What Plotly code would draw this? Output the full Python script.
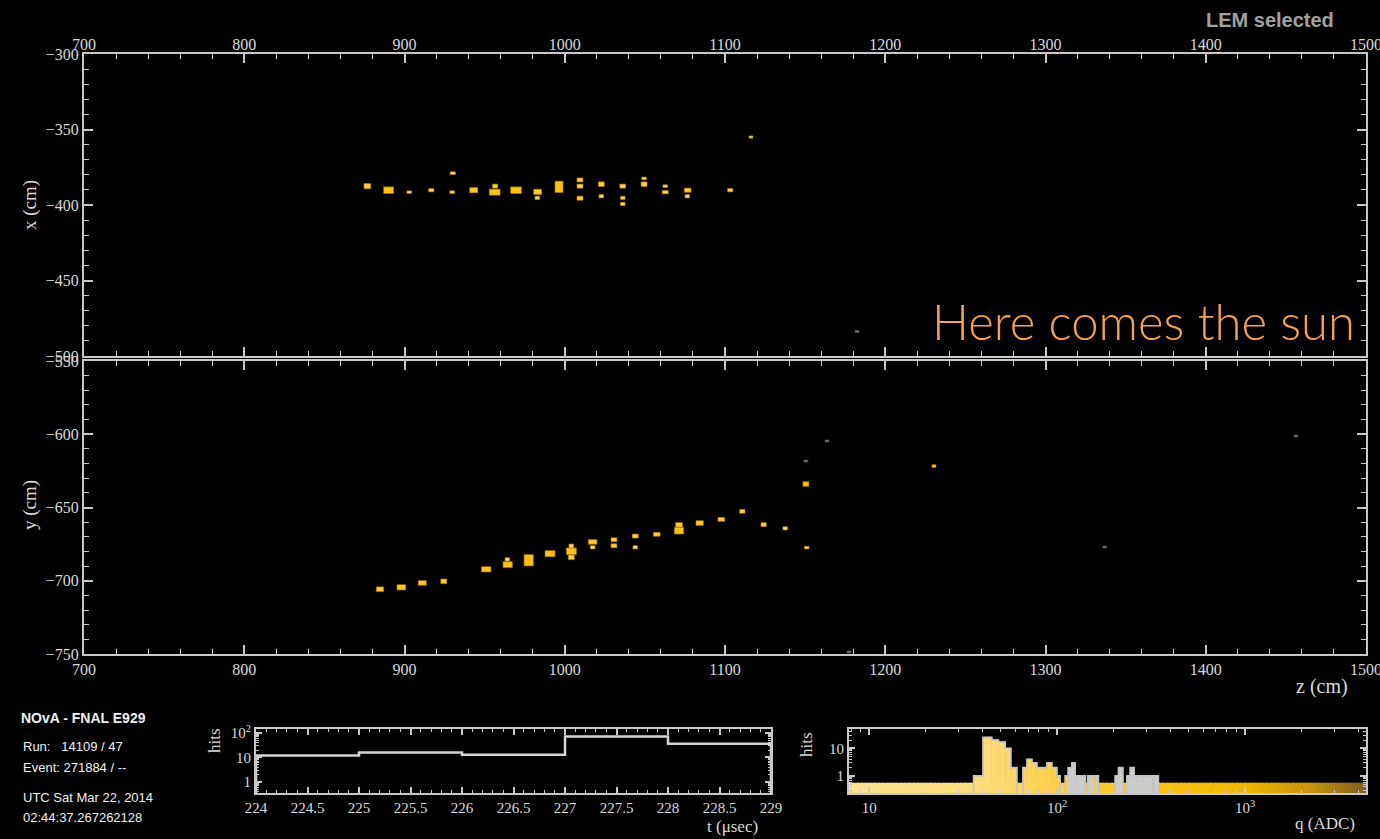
import numpy as np
import plotly.graph_objects as go

# ---------------- data ----------------
# XZ view (top panel) - selected hits: plane z, cell x, drawn cell size, charge
xz_z = [876.8, 890.1, 903.0, 916.7, 930.1, 929.8, 943.2, 956.5, 956.3, 969.6, 983.1, 982.9, 996.4,
        1009.5, 1009.5, 1009.5, 1022.8, 1022.8, 1036.2, 1036.2, 1036.2, 1049.5, 1049.5, 1062.7,
        1062.7, 1076.7, 1076.5, 1103.3, 1116.2]
xz_x = [-387.5, -390.2, -391.5, -390.2, -378.9, -391.5, -390.2, -387.5, -391.5, -390.2, -391.3,
        -395.3, -388.0, -383.4, -387.5, -395.5, -386.2, -394.2, -387.5, -395.3, -399.3, -382.4,
        -386.2, -387.5, -391.5, -390.2, -394.2, -390.2, -355.0]
xz_dz = [4.2, 6.2, 2.9, 3.3, 3.3, 2.9, 5.0, 3.3, 6.7, 6.7, 5.0, 2.9, 5.0, 3.7, 3.7, 3.7, 3.7, 2.9,
         3.7, 2.9, 2.9, 2.9, 3.7, 2.9, 3.7, 4.2, 2.9, 3.3, 2.5]
xz_dx = [3.5, 4.4, 1.8, 2.2, 1.8, 1.8, 3.5, 2.7, 4.0, 4.4, 3.5, 2.2, 7.5, 2.7, 2.7, 2.7, 3.1, 2.2,
         2.7, 2.2, 2.2, 1.8, 3.1, 1.8, 2.2, 2.7, 2.2, 2.2, 1.5]
xz_q = [180, 300, 60, 80, 60, 60, 200, 100, 320, 320, 200, 70, 350, 110, 110, 110, 130, 70, 110,
        70, 70, 60, 130, 60, 100, 150, 70, 80, 50]
# XZ view - other (unselected) hits
xz_oth_z = [1182.4]
xz_oth_x = [-483.7]

# YZ view (bottom panel) - selected hits
yz_z = [884.7, 898.0, 911.1, 924.5, 951.0, 964.4, 964.2, 977.5, 990.8, 1004.1, 1004.1, 1004.1,
        1017.4, 1017.4, 1030.7, 1030.7, 1044.0, 1044.0, 1057.4, 1071.3, 1071.3, 1084.2, 1097.7,
        1110.8, 1124.1, 1137.6, 1151.0, 1150.5, 1230.4]
yz_y = [-705.8, -704.5, -701.5, -700.4, -692.2, -689.0, -685.4, -686.0, -681.5, -679.9, -676.3,
        -684.0, -673.5, -677.2, -672.0, -676.1, -669.5, -677.2, -668.3, -661.9, -665.8, -660.6,
        -658.1, -652.6, -661.7, -664.2, -677.4, -634.0, -621.7]
yz_dz = [4.6, 5.4, 5.0, 3.7, 5.8, 5.8, 2.9, 5.8, 6.2, 6.2, 2.9, 3.7, 5.4, 2.9, 3.7, 3.7, 3.7, 2.9,
         4.2, 4.2, 5.8, 4.6, 4.2, 3.3, 3.3, 2.9, 2.9, 3.7, 2.5]
yz_dy = [3.2, 3.6, 3.2, 3.2, 3.6, 4.1, 2.3, 7.7, 4.1, 4.6, 2.7, 3.2, 3.2, 2.3, 2.7, 2.7, 2.7, 2.3,
         2.7, 3.2, 4.6, 3.2, 2.7, 2.7, 2.7, 2.3, 1.8, 3.2, 1.8]
yz_q = [180, 220, 200, 150, 250, 280, 60, 350, 300, 320, 70, 130, 200, 60, 110, 110, 110, 60, 150,
        160, 320, 180, 150, 100, 100, 70, 50, 420, 120]
# YZ view - other (unselected) hits
yz_oth_z = [1150.5, 1163.7, 1337.0, 1456.3, 1177.4]
yz_oth_y = [-618.3, -604.6, -677.0, -601.2, -748.6]

# timing histogram
t_edges = [224, 225, 226, 227, 228, 229]
t_hits = [12, 16, 13, 72, 36]

# charge histogram (bin edges in ADC, hit counts, grey = unselected hits)
q_edges = [35.9, 40.3, 44.9, 48.7, 52.9, 56.7, 61.0, 65.7, 69.0, 73.4, 78.0, 88.2, 93.7, 99.6,
           103.7, 110.3, 114.4, 119.7, 124.6, 140.9, 145.0, 157.3, 161.2, 165.8, 203.5, 211.9,
           223.7, 234.9, 244.6, 256.8, 263.2, 274.1, 285.7, 322.8, 328.1, 345.8]
q_hits = [1, 25, 20, 17, 10, 2, 0, 2, 4, 3, 2, 3, 2, 1, 0, 1, 2, 3, 1, 0, 1, 1, 1, 0, 1, 2, 0, 1,
          2, 1, 1, 1, 1, 0, 1]
q_grey = [0, 0, 0, 0, 0, 0, 0, 0, 0, 0, 0, 0, 0, 0, 0, 0, 1, 1, 1, 0, 1, 0, 1, 0, 1, 1, 0, 1,
          1, 1, 1, 1, 1, 0, 1]
q_range = [7.8, 4400]

# ---------------- styling helpers ----------------
W, H = 1380, 839
FRAME = '#C8C8C8'
LBL = '#DADADA'
SERIF = 'Liberation Serif'
SANS = 'Liberation Sans'

PAL = [(0.89, (250, 226, 145)), (1.6, (252, 220, 125)), (2.0, (255, 208, 75)),
       (2.5, (252, 194, 25)), (3.0, (242, 182, 0)), (3.35, (200, 148, 14)), (3.65, (125, 95, 30))]


def pal(q):
    lq = np.log10(q)
    xs = [p[0] for p in PAL]
    c = [int(round(np.interp(lq, xs, [p[1][i] for p in PAL]))) for i in range(3)]
    return 'rgb(%d,%d,%d)' % tuple(c)


def px_x(p):
    return p / W


def px_y(p):
    return 1 - p / H


def frame_axis(**kw):
    d = dict(showline=True, linecolor=FRAME, linewidth=2, mirror='allticks', ticks='inside',
             ticklen=9, tickwidth=1.5, tickcolor=FRAME, showgrid=False, zeroline=False,
             automargin=False, fixedrange=True, ticklabeloverflow='allow',
             tickfont=dict(family=SERIF, size=16, color=LBL))
    d.update(kw)
    return d


def minor(**kw):
    d = dict(ticks='inside', ticklen=5, tickwidth=1, tickcolor=FRAME, showgrid=False)
    d.update(kw)
    return d


fig = go.Figure()


def hits(z, v, dz, dv, colors, xa, ya, lc):
    v = np.array(v, float)
    dv = np.array(dv, float)
    fig.add_trace(go.Bar(x=z, y=dv, base=v - dv / 2, width=dz, xaxis=xa, yaxis=ya,
                         marker=dict(color=colors, line=dict(color=lc, width=0.7)),
                         hoverinfo='skip', showlegend=False))


# top view
hits(xz_oth_z, xz_oth_x, [2.5] * len(xz_oth_z), [1.3] * len(xz_oth_z), '#7A7A7A', 'x', 'y', '#555')
hits(xz_z, xz_x, xz_dz, xz_dx, [pal(q) for q in xz_q], 'x', 'y', 'rgba(170,120,0,0.9)')
# bottom view
hits(yz_oth_z, yz_oth_y, [2.5] * len(yz_oth_z), [1.3] * len(yz_oth_z), '#7A7A7A', 'x2', 'y2', '#555')
hits(yz_z, yz_y, yz_dz, yz_dy, [pal(q) for q in yz_q], 'x2', 'y2', 'rgba(170,120,0,0.9)')

# time histogram
tx, ty = [t_edges[0]], [0.1]
for i, h in enumerate(t_hits):
    tx += [t_edges[i], t_edges[i + 1]]
    ty += [h, h]
tx.append(t_edges[-1])
ty.append(0.1)
fig.add_trace(go.Scatter(x=tx, y=ty, mode='lines', line=dict(color='#D4D4D4', width=2.5),
                         xaxis='x3', yaxis='y3', hoverinfo='skip', showlegend=False))

# charge histogram: palette band
band_e = np.logspace(np.log10(q_range[0]), np.log10(q_range[1]), 121)
band_c = np.sqrt(band_e[:-1] * band_e[1:])
for lo, hi, c in zip(band_e[:-1], band_e[1:], band_c):
    col = pal(c)
    fig.add_trace(go.Scatter(x=[lo, lo, hi, hi, lo], y=[0.1, 0.53, 0.53, 0.1, 0.1],
                             fill='toself', fillcolor=col, mode='lines', line=dict(width=1.5, color=col),
                             xaxis='x4', yaxis='y4', hoverinfo='skip', showlegend=False))
# charge histogram: bins
for i, h in enumerate(q_hits):
    if h <= 0:
        continue
    lo, hi = q_edges[i], q_edges[i + 1]
    col = '#CDCDCD' if q_grey[i] else pal(np.sqrt(lo * hi))
    fig.add_trace(go.Scatter(x=[lo, lo, hi, hi, lo], y=[0.1, h, h, 0.1, 0.1], fill='toself',
                             fillcolor=col, mode='lines', line=dict(width=0.8, color=col),
                             xaxis='x4', yaxis='y4', hoverinfo='skip', showlegend=False))
ox, oy = [q_edges[0]], [0.1]
for i, h in enumerate(q_hits):
    hv = h if h > 0 else 0.1
    ox += [q_edges[i], q_edges[i + 1]]
    oy += [hv, hv]
ox.append(q_edges[-1])
oy.append(0.1)
fig.add_trace(go.Scatter(x=ox, y=oy, mode='lines', line=dict(color='#C4C4C4', width=1.6),
                         xaxis='x4', yaxis='y4', hoverinfo='skip', showlegend=False))

# ---------------- axes ----------------
dom_x = [px_x(84), px_x(1366)]
fig.update_layout(
    xaxis=frame_axis(domain=dom_x, range=[700, 1500], side='top', anchor='y', tick0=700, dtick=100,
                     minor=minor(dtick=20), ticklabelstandoff=-4),
    yaxis=frame_axis(domain=[px_y(356), px_y(54)], range=[-500, -300], anchor='x', tick0=-500,
                     dtick=50, minor=minor(dtick=10)),
    xaxis2=frame_axis(domain=dom_x, range=[700, 1500], anchor='y2', tick0=700, dtick=100,
                      minor=minor(dtick=20)),
    yaxis2=frame_axis(domain=[px_y(654), px_y(361)], range=[-750, -550], anchor='x2', tick0=-750,
                      dtick=50, minor=minor(dtick=10)),
    xaxis3=frame_axis(domain=[px_x(256), px_x(771)], range=[224, 229], anchor='y3', tick0=224,
                      dtick=0.5, ticklen=6, tickfont=dict(family=SERIF, size=15, color=LBL),
                      minor=minor(dtick=0.1, ticklen=3)),
    yaxis3=frame_axis(domain=[px_y(793), px_y(729)], type='log', range=[-0.45, 2.16], anchor='x3',
                      tickvals=[1, 10, 100], ticktext=['1', '10', '10<sup>2</sup>'], ticklen=6,
                      tickfont=dict(family=SERIF, size=15, color=LBL),
                      minor=minor(tickvals=[2, 3, 4, 5, 6, 7, 8, 9, 20, 30, 40, 50, 60, 70, 80, 90, 0.4,
                                            0.5, 0.6, 0.7, 0.8, 0.9], ticklen=3)),
    xaxis4=frame_axis(domain=[px_x(849), px_x(1366)], type='log',
                      range=[np.log10(q_range[0]), np.log10(q_range[1])], anchor='y4',
                      tickvals=[10, 100, 1000], ticktext=['10', '10<sup>2</sup>', '10<sup>3</sup>'],
                      ticklen=6, tickfont=dict(family=SERIF, size=15, color=LBL),
                      minor=minor(tickvals=[8, 9, 20, 30, 40, 50, 60, 70, 80, 90, 200, 300, 400, 500,
                                            600, 700, 800, 900, 2000, 3000, 4000], ticklen=3)),
    yaxis4=frame_axis(domain=[px_y(793), px_y(729)], type='log', range=[-0.62, 1.70], anchor='x4',
                      tickvals=[1, 10], ticktext=['1', '10'], ticklen=6,
                      tickfont=dict(family=SERIF, size=15, color=LBL),
                      minor=minor(tickvals=[0.3, 0.4, 0.5, 0.6, 0.7, 0.8, 0.9, 2, 3, 4, 5, 6, 7, 8, 9,
                                            20, 30, 40], ticklen=3)),
)

# ---------------- texts ----------------
ann = []


def txt(s, x, y, size, color=LBL, family=SERIF, xanchor='center', angle=0, weight=None):
    f = dict(family=family, size=size, color=color)
    if weight:
        f['weight'] = weight
    ann.append(dict(text=s, x=px_x(x), y=px_y(y), xref='paper', yref='paper', showarrow=False,
                    xanchor=xanchor, yanchor='middle', textangle=angle, font=f))


txt('x (cm)', 30, 205, 19, angle=-90)
txt('y (cm)', 30, 505, 19, angle=-90)
txt('z (cm)', 1322, 686, 20)
txt('t (\u03bcsec)', 732, 826, 17)
txt('q (ADC)', 1325, 823, 17)
txt('hits', 214, 741, 17, angle=-90)
txt('hits', 806, 745, 17, angle=-90)
txt('<b>LEM selected</b>', 1270, 20, 20, color='#A0A0A0', family=SANS)
txt('Here comes the sun', 1357, 321, 49, color='#F7A24C', family='Lato', xanchor='right', weight=300)
txt('<b>NOvA - FNAL E929</b>', 19, 718, 14, color='#F0F0F0', family=SANS, xanchor='left')
txt('Run:   14109 / 47', 21, 746, 13, color='#F0F0F0', family=SANS, xanchor='left')
txt('Event: 271884 / --', 21, 767, 13, color='#F0F0F0', family=SANS, xanchor='left')
txt('UTC Sat Mar 22, 2014', 21, 797, 13, color='#F0F0F0', family=SANS, xanchor='left')
txt('02:44:37.267262128', 21, 817, 13, color='#F0F0F0', family=SANS, xanchor='left')

fig.update_layout(width=W, height=H, margin=dict(l=0, r=0, t=0, b=0, autoexpand=False),
                  paper_bgcolor='black', plot_bgcolor='black', barmode='overlay', showlegend=False,
                  annotations=ann)

fig.write_html('out.html', config={'displayModeBar': False},
               post_script="document.body.style.margin='0px';")
